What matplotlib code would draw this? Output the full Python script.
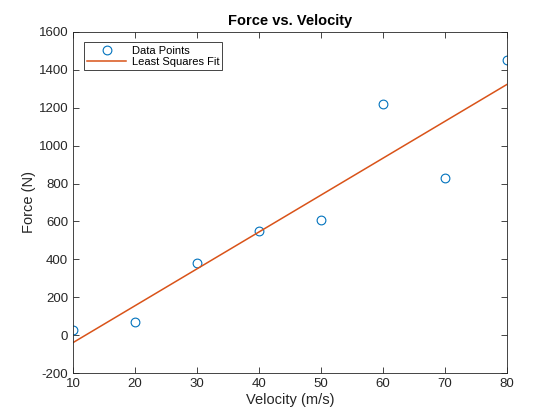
import numpy as np
import matplotlib.pyplot as plt

plt.rcParams['font.family'] = ['Liberation Sans', 'DejaVu Sans']
plt.rcParams['axes.unicode_minus'] = False

# measured data
velocity = [10, 20, 30, 40, 50, 60, 70, 80]
force = [25, 70, 380, 550, 610, 1220, 830, 1450]

x_ticks = [10, 20, 30, 40, 50, 60, 70, 80]
y_ticks = [-200, 0, 200, 400, 600, 800, 1000, 1200, 1400, 1600]

# least squares straight line through the points
a1, a0 = np.polyfit(velocity, force, 1)
v = np.array(velocity)
fit = a0 + a1 * v

ax_col = '#262626'

fig = plt.figure(figsize=(5.6, 4.2), dpi=100)
ax = fig.add_axes([0.1304, 0.1119, 0.775, 0.812])

ax.plot(velocity, force, 'o', mfc='none', mec='#0072BD', ms=6.3, mew=0.8,
        label='Data Points')
ax.plot(v, fit, '-', color='#D95319', lw=1.1, label='Least Squares Fit')

ax.set_xlim(10, 80)
ax.set_ylim(-200, 1600)
ax.set_xticks(x_ticks)
ax.set_yticks(y_ticks)
ax.tick_params(direction='in', length=4, width=0.6, colors=ax_col,
               labelsize=9.5, top=True, right=True, labeltop=False, labelright=False)
for s in ax.spines.values():
    s.set_color(ax_col)
    s.set_linewidth(0.6)

ax.set_xlabel('Velocity (m/s)', fontsize=10.5, color=ax_col, labelpad=2)
ax.set_ylabel('Force (N)', fontsize=10.5, color=ax_col, labelpad=2)
ax.set_title('Force vs. Velocity', fontsize=10.5, fontweight='bold', pad=5)

leg = ax.legend(loc='upper left', bbox_to_anchor=(0.025, 0.97), fontsize=8,
                frameon=True, fancybox=False, edgecolor=ax_col, framealpha=1,
                borderpad=0.3, handlelength=3.5, handletextpad=0.5,
                labelspacing=0.1, borderaxespad=0)
leg.get_frame().set_linewidth(0.6)

fig.savefig('out.png', dpi=100)
